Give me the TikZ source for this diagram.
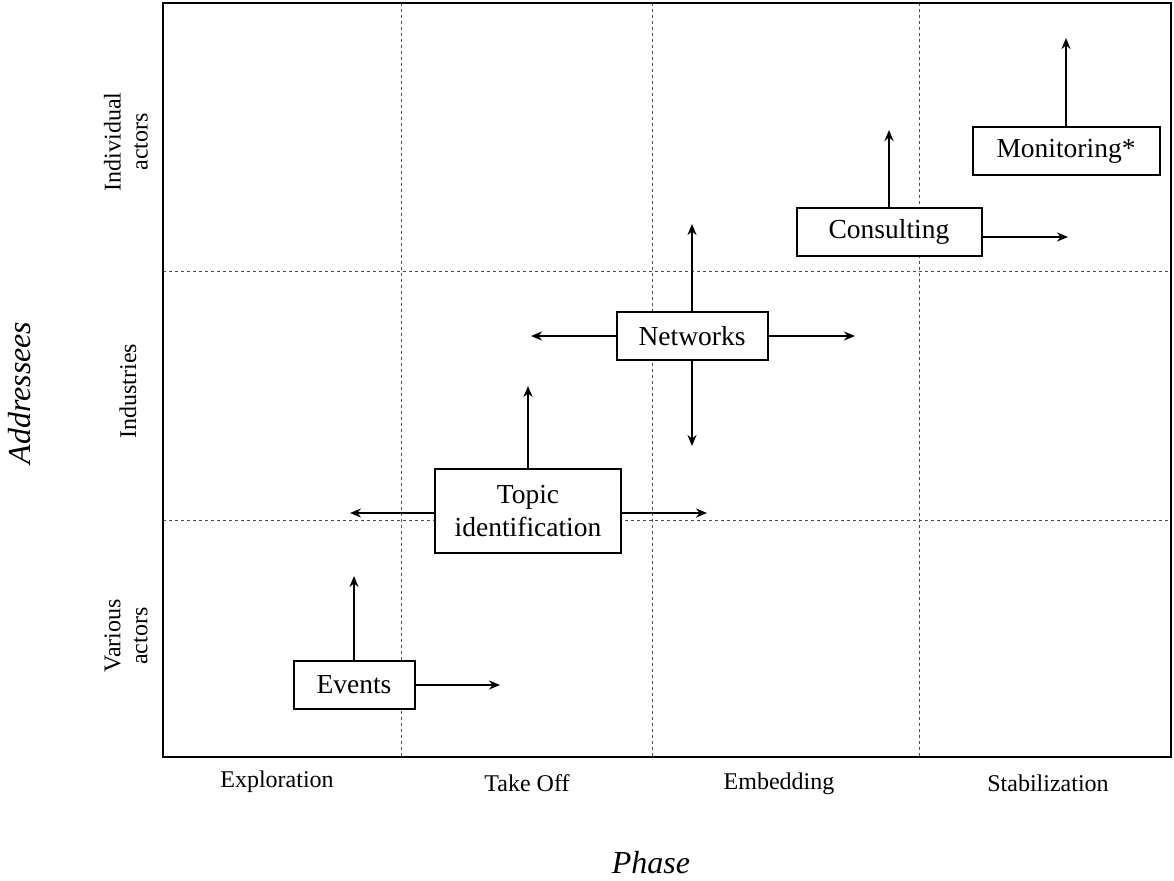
\documentclass[tikz,border=0pt]{standalone}
\usepackage{fontspec}
\setmainfont{Liberation Serif}
\usetikzlibrary{arrows.meta}
\begin{document}
\begin{tikzpicture}[x=1pt,y=-1pt,
  box/.style={draw,line width=2pt,inner sep=0pt,align=center,font=\fontsize{27.5}{33}\selectfont},
  arr/.style={line width=2pt,-{Stealth[length=11pt,width=9pt]}},
  grid/.style={draw=black!70,line width=1pt,dash pattern=on 3pt off 3pt},
  frame/.style={draw,line width=2pt},
  axlab/.style={font=\fontsize{24}{27}\selectfont,anchor=base},
  sidelab/.style={font=\fontsize{24}{27}\selectfont,rotate=90,align=center},
  title/.style={font=\fontsize{32}{36}\selectfont\itshape,inner sep=0pt}]
\path[use as bounding box] (0,0) rectangle (1174,880);
% grid
\coordinate (fTL) at (163,3);
\coordinate (fBR) at (1171,757);
\draw[grid] (401,3) -- (401,757);
\draw[grid] (652,3) -- (652,757);
\draw[grid] (919,3) -- (919,757);
\draw[grid] (163,271) -- (1171,271);
\draw[grid] (163,520) -- (1171,520);
\draw[frame] (fTL) rectangle (fBR);
% boxes
\node[box,fill=white,minimum width=121pt,minimum height=48pt] (ev) at (354,685) {Events};
\node[box,fill=white,minimum width=186pt,minimum height=84pt] (ti) at (528,511) {Topic\\identification};
\node[box,fill=white,minimum width=151pt,minimum height=48pt] (nw) at (692,336) {Networks};
\node[box,fill=white,minimum width=185pt,minimum height=48pt] (co) at (889,232) {Consulting};
\node[box,fill=white,minimum width=187pt,minimum height=48pt] (mo) at (1066,151) {Monitoring*};
% arrow ends
\coordinate (evU) at (354,576);
\coordinate (evR) at (500,685);
\coordinate (tiU) at (528,386);
\coordinate (tiL) at (350,513);
\coordinate (tiR) at (707,513);
\coordinate (nwU) at (692,224);
\coordinate (nwD) at (692,446);
\coordinate (nwL) at (531,336);
\coordinate (nwR) at (855,336);
\coordinate (coU) at (889,130);
\coordinate (coR) at (1068,237);
\coordinate (moU) at (1066,38);
% arrows
\draw[arr] (ev.north) -- (evU);
\draw[arr] (ev.east) -- (evR);
\draw[arr] (ti.north) -- (tiU);
\draw[arr] (ti.west |- tiL) -- (tiL);
\draw[arr] (ti.east |- tiR) -- (tiR);
\draw[arr] (nw.north) -- (nwU);
\draw[arr] (nw.south) -- (nwD);
\draw[arr] (nw.west) -- (nwL);
\draw[arr] (nw.east) -- (nwR);
\draw[arr] (co.north) -- (coU);
\draw[arr] (co.east |- coR) -- (coR);
\draw[arr] (mo.north) -- (moU);
% axis labels
\node[axlab] (l1) at (277,787) {Exploration};
\node[axlab] (l2) at (527,791) {Take Off};
\node[axlab] (l3) at (779,789) {Embedding};
\node[axlab] (l4) at (1048,791) {Stabilization};
\node[title,anchor=base] (ph) at (651,873) {Phase};
\node[sidelab] (s1) at (126,142) {Individual\\actors};
\node[sidelab] (s2) at (128,391) {Industries};
\node[sidelab] (s3) at (126,636) {Various\\actors};
\node[title,rotate=90] (ad) at (20,393) {Addressees};
\end{tikzpicture}
\end{document}
